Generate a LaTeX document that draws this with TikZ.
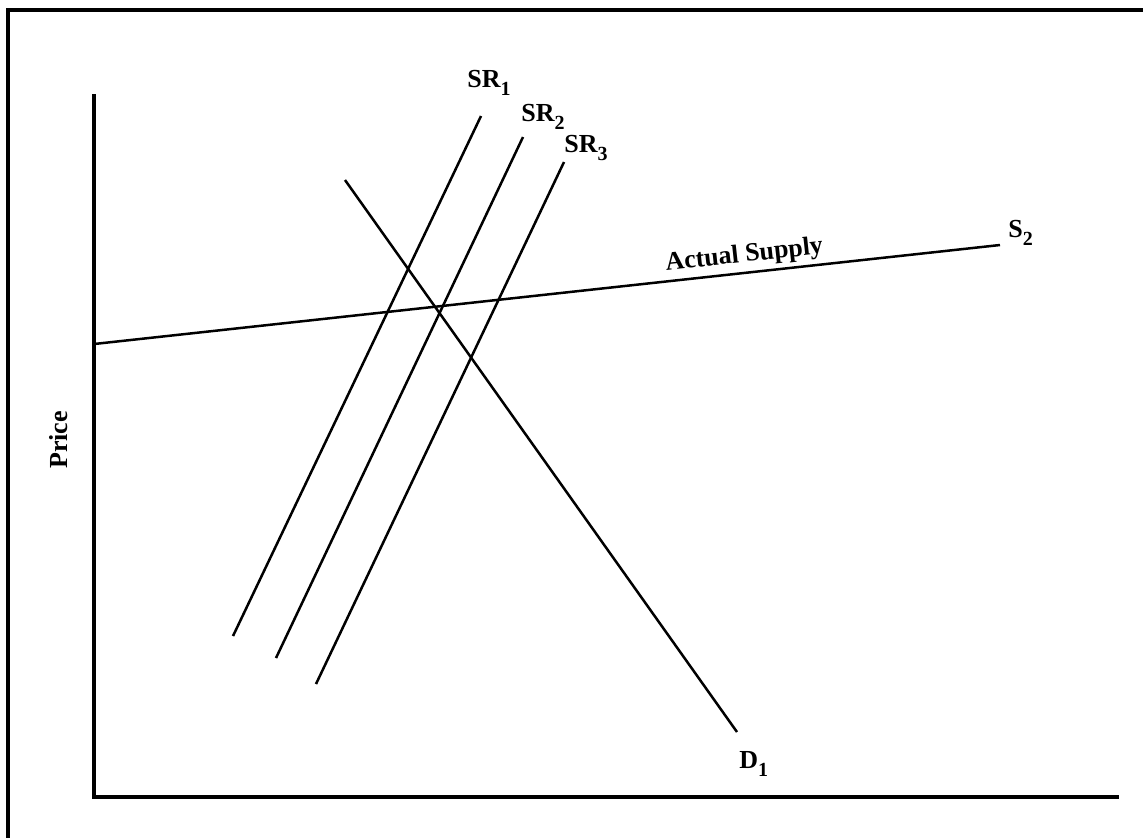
\documentclass[tikz,border=0pt]{standalone}
\usepackage{fontspec}
\setmainfont{Liberation Serif}
\newcommand{\lowsub}[1]{\raisebox{-4pt}{\fontsize{10}{12}\selectfont #1}}
\tikzset{
  curve/.style={line width=1.25pt},
  axis/.style={line width=2pt},
  lbl/.style={font=\bfseries\fontsize{13}{15}\selectfont, inner sep=0pt}
}
\begin{document}
\begin{tikzpicture}[x=0.5pt,y=-0.5pt]
\clip (0,0) rectangle (1143,837);
\draw[axis] (8,10) rectangle (1170,870);

% axes
\coordinate (top) at (94,94);
\coordinate (origin) at (94,797);
\coordinate (right) at (1119,797);
\draw[axis] (top) -- (origin) -- (right);
\node[lbl, rotate=90, anchor=base] (price) at (67,440) {Price};

% short-run supply curves
\coordinate (sr1a) at (233,636);
\coordinate (sr1b) at (481,116);
\coordinate (sr2a) at (276,658);
\coordinate (sr2b) at (523,137);
\coordinate (sr3a) at (316,684);
\coordinate (sr3b) at (564,162);
\draw[curve] (sr1a) -- (sr1b);
\draw[curve] (sr2a) -- (sr2b);
\draw[curve] (sr3a) -- (sr3b);
\node[lbl, anchor=base west] (sr1) at (467,87) {SR\lowsub{1}};
\node[lbl, anchor=base west] (sr2) at (521,121) {SR\lowsub{2}};
\node[lbl, anchor=base west] (sr3) at (564,152) {SR\lowsub{3}};

% demand
\coordinate (d1a) at (345,180);
\coordinate (d1b) at (737,732);
\draw[curve] (d1a) -- (d1b);
\node[lbl, anchor=base west] (d1) at (739,768) {D\lowsub{1}};

% actual supply
\coordinate (s2a) at (94,344);
\coordinate (s2b) at (1000,245);
\draw[curve] (s2a) -- (s2b);
\node[lbl, anchor=base west] (s2) at (1008,237) {S\lowsub{2}};
\node[lbl, anchor=base, rotate=6.2] (actual) at (745,262) {Actual Supply};
\end{tikzpicture}
\end{document}
